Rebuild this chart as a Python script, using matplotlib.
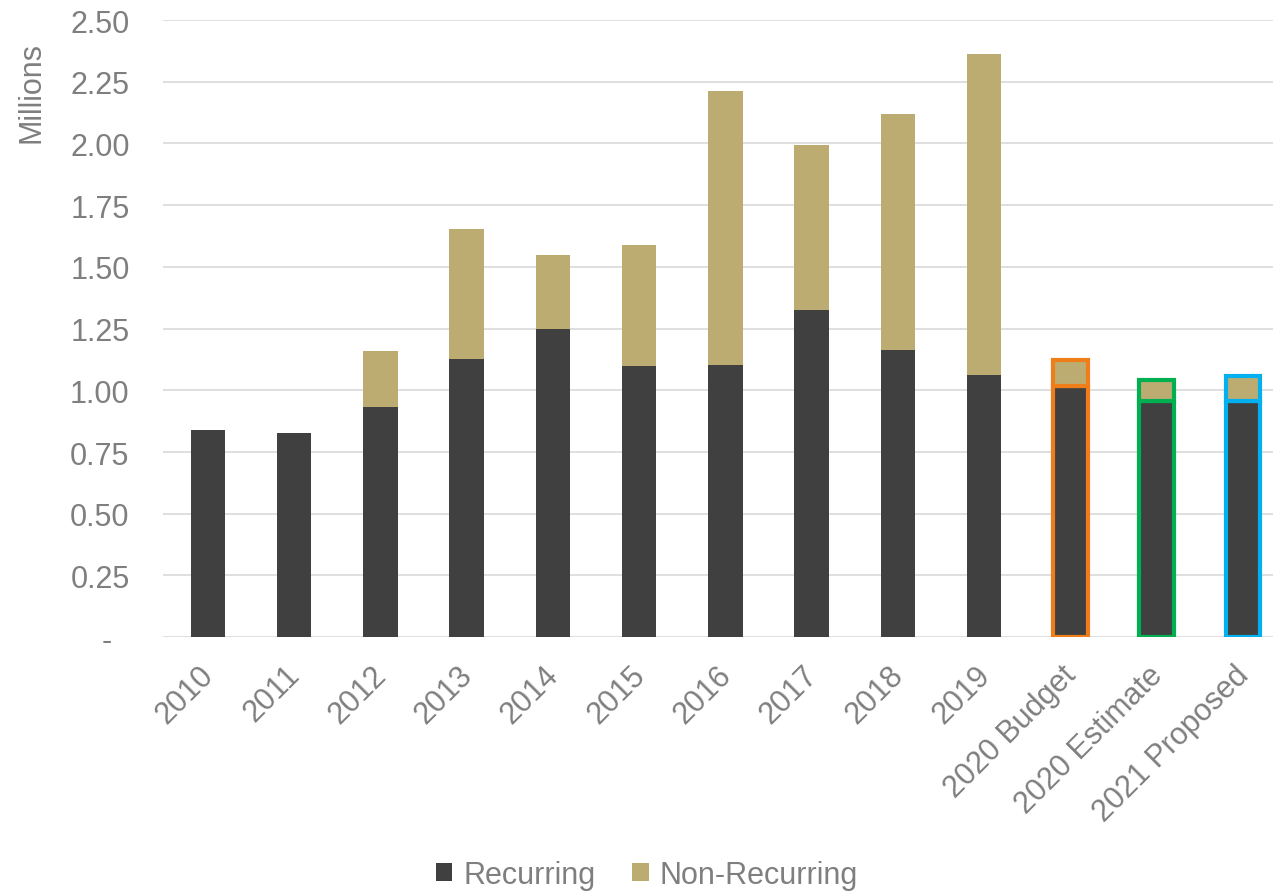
import matplotlib.pyplot as plt
import matplotlib.ticker as mticker
import matplotlib.transforms as mtransforms
import numpy as np

plt.rcParams['font.family'] = ['Liberation Sans', 'DejaVu Sans']

GREY_TEXT = '#7F7F7F'
RECURRING_COLOR = '#404040'
NON_RECURRING_COLOR = '#BCAC72'
FONT_SIZE = 22

categories = ['2010', '2011', '2012', '2013', '2014', '2015', '2016', '2017',
              '2018', '2019', '2020 Budget', '2020 Estimate', '2021 Proposed']
recurring = [0.839, 0.827, 0.932, 1.126, 1.248, 1.098, 1.102, 1.325,
             1.163, 1.062, 1.018, 0.957, 0.957]
non_recurring = [0.0, 0.0, 0.227, 0.527, 0.300, 0.490, 1.110, 0.668,
                 0.956, 1.300, 0.104, 0.086, 0.101]
# outline colours for the budget / estimate / proposed columns
highlight = {'2020 Budget': '#EE7D1A',
             '2020 Estimate': '#00B050',
             '2021 Proposed': '#00B0F0'}

fig = plt.figure(figsize=(12.73, 8.95), dpi=100)
ax = fig.add_axes([0.128, 0.287, 0.872, 0.6895])

x = np.arange(len(categories))
width = 0.4

bars_rec = ax.bar(x, recurring, width, color=RECURRING_COLOR, label='Recurring', zorder=2)
bars_non = ax.bar(x, non_recurring, width, bottom=recurring, color=NON_RECURRING_COLOR,
                  label='Non-Recurring', zorder=2)

for i, cat in enumerate(categories):
    if cat in highlight:
        for b in (bars_rec[i], bars_non[i]):
            b.set_edgecolor(highlight[cat])
            b.set_linewidth(3)

ax.set_xlim(-0.52, 12.35)
ax.set_ylim(0, 2.5)
ax.yaxis.set_major_locator(mticker.MultipleLocator(0.25))
ax.yaxis.set_major_formatter(mticker.FuncFormatter(lambda v, p: '-  ' if abs(v) < 1e-9 else f'{v:.2f}'))
ax.grid(axis='y', color='#D9D9D9', linewidth=1.2, zorder=0)
ax.set_axisbelow(True)
for s in ax.spines.values():
    s.set_visible(False)

ax.set_xticks(x)
ax.set_xticklabels(categories, rotation=45, ha='right', rotation_mode='anchor')
ax.tick_params(axis='both', length=0, labelsize=FONT_SIZE, labelcolor=GREY_TEXT)
ax.tick_params(axis='y', pad=24)
ax.tick_params(axis='x', pad=16)

# nudge the slanted category labels a little to the left
shift = mtransforms.ScaledTranslation(-9 / 100, 0, fig.dpi_scale_trans)
for lbl in ax.get_xticklabels():
    lbl.set_transform(lbl.get_transform() + shift)

ax.set_ylabel('Millions', fontsize=FONT_SIZE, color=GREY_TEXT)
ax.yaxis.set_label_coords(-0.105, 0.884)

fig.legend(loc='lower center', bbox_to_anchor=(0.508, -0.026), ncol=2, frameon=False,
           fontsize=FONT_SIZE, labelcolor=GREY_TEXT, handlelength=0.55, handleheight=0.55,
           handletextpad=0.35, columnspacing=1.2)

fig.savefig('out.png', dpi=100)
